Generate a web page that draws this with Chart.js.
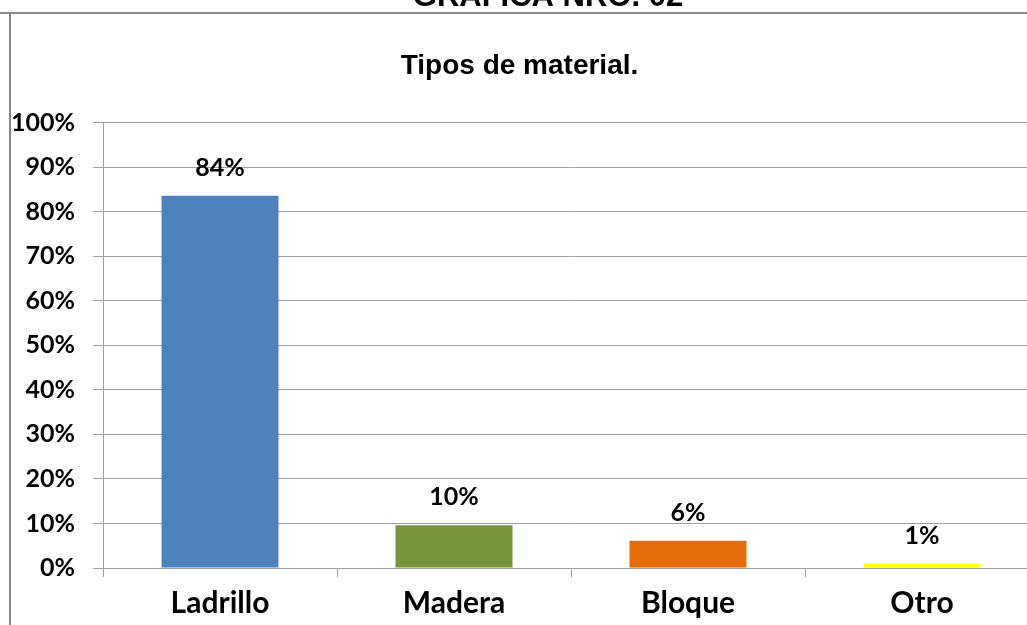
<!DOCTYPE html>
<html>
<head>
<meta charset="utf-8">
<script src="https://cdn.jsdelivr.net/npm/chart.js@4"></script>
<style>
  html, body { margin: 0; padding: 0; background: #fff; overflow: hidden; }
  #wrap { position: absolute; left: 0; top: 0; width: 1045px; height: 625px; }
</style>
</head>
<body>
<div id="wrap"><canvas id="myChart" width="1045" height="625"></canvas></div>
<script>
var categorias = ['Ladrillo', 'Madera', 'Bloque', 'Otro'];
var porcentajes = [83.6, 9.6, 6.1, 0.9];
var colores = ['#4F81BD', '#77933C', '#E46C0A', '#FFFF00'];
var ticksY = [0, 10, 20, 30, 40, 50, 60, 70, 80, 90, 100];

var ctx = document.getElementById('myChart').getContext('2d');

// marco, titulo superior cortado y etiquetas de valor
var extras = {
    id: 'extras',
    beforeDraw: function(chart) {
        var c = chart.ctx;
        c.save();
        c.strokeStyle = '#8a8a8a';
        c.lineWidth = 2;
        c.beginPath();
        c.moveTo(0, 13);
        c.lineTo(chart.width, 13);
        c.moveTo(10, 13);
        c.lineTo(10, chart.height);
        c.stroke();
        c.fillStyle = '#000';
        c.font = 'bold 31px "Liberation Sans", Arial, sans-serif';
        c.textAlign = 'center';
        c.textBaseline = 'alphabetic';
        c.fillText('GRAFICA NRO. 02', 548, 6);
        c.restore();
    },
    afterDatasetsDraw: function(chart) {
        var c = chart.ctx;
        var meta = chart.getDatasetMeta(0);
        c.save();
        c.fillStyle = '#000';
        c.font = 'bold 25px Lato, sans-serif';
        c.textAlign = 'center';
        c.textBaseline = 'middle';
        meta.data.forEach(function(bar, i) {
            c.fillText(Math.round(porcentajes[i]) + '%', bar.x, bar.y - 28);
        });
        c.restore();
    }
};

var chart = new Chart(ctx, {
    type: 'bar',
    data: {
        labels: categorias,
        datasets: [{
            data: porcentajes,
            backgroundColor: colores,
            borderWidth: 0,
            barPercentage: 0.5,
            categoryPercentage: 1
        }]
    },
    options: {
        responsive: false,
        animation: false,
        layout: { padding: { left: 0, right: 6, top: 0, bottom: 0 } },
        plugins: {
            legend: { display: false },
            tooltip: { enabled: false },
            title: {
                display: true,
                text: 'Tipos de material.',
                color: '#000',
                font: { family: '"Liberation Sans", Arial, sans-serif', size: 28, weight: 'bold', lineHeight: 1.2 },
                padding: { top: 49, bottom: 40 }
            }
        },
        scales: {
            y: {
                min: 0,
                max: 100,
                afterFit: function(scale) { scale.width = 103; },
                afterBuildTicks: function(scale) {
                    scale.ticks = ticksY.map(function(v) { return { value: v }; });
                },
                ticks: {
                    color: '#000',
                    padding: 18,
                    font: { family: 'Lato, sans-serif', size: 25, weight: 'bold' },
                    callback: function(v) { return v + '%'; }
                },
                grid: { color: '#a0a0a0', lineWidth: 1, tickLength: 10 },
                border: { color: '#a0a0a0' }
            },
            x: {
                afterFit: function(scale) { scale.height = 57; },
                ticks: {
                    color: '#000',
                    padding: 8,
                    font: { family: 'Lato, sans-serif', size: 30, weight: 'bold' }
                },
                grid: { drawOnChartArea: false, color: '#a0a0a0', tickLength: 9, offset: true },
                border: { color: '#a0a0a0' }
            }
        }
    },
    plugins: [extras]
});
</script>
</body>
</html>
